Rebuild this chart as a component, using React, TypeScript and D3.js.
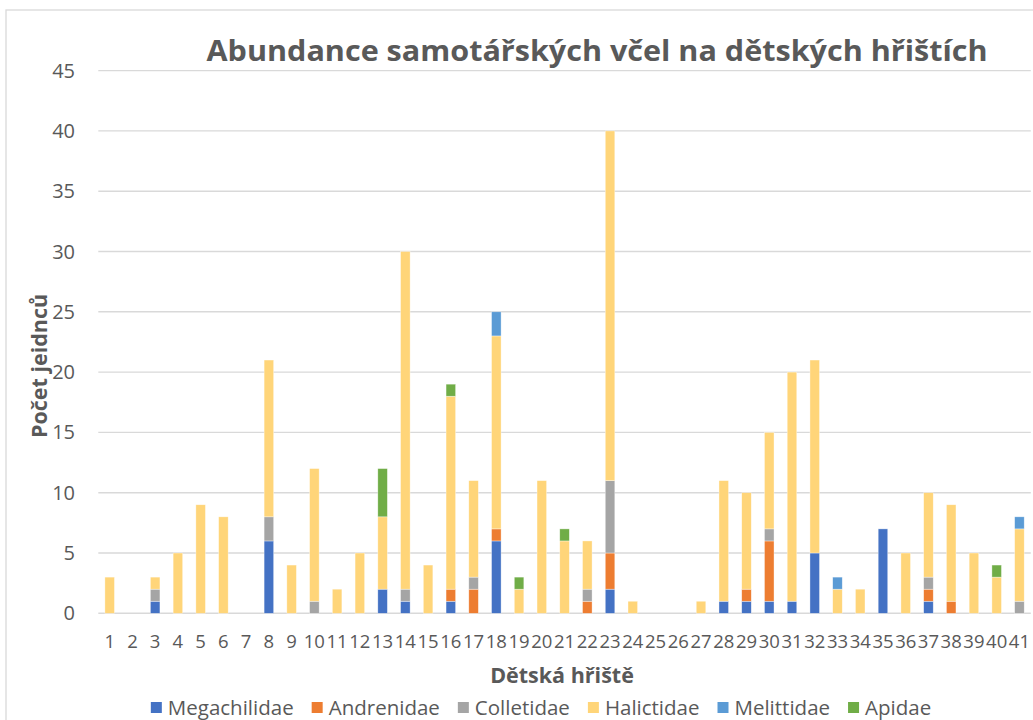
import React from 'react';
import * as d3 from 'd3';

const sites = d3.range(1, 42).map(String);
const families = ['Megachilidae', 'Andrenidae', 'Colletidae', 'Halictidae', 'Melittidae', 'Apidae'];
const familyColors = ['#4472C4', '#ED7D31', '#A5A5A5', '#FFD579', '#5B9BD5', '#70AD47'];

// counts per playground (1..41)
const megachilidae = [0,0,1,0,0,0,0,6,0,0,0,0,2,1,0,1,0,6,0,0,0,0,2,0,0,0,0,1,1,1,1,5,0,0,7,0,1,0,0,0,0];
const andrenidae   = [0,0,0,0,0,0,0,0,0,0,0,0,0,0,0,1,2,1,0,0,0,1,3,0,0,0,0,0,1,5,0,0,0,0,0,0,1,1,0,0,0];
const colletidae   = [0,0,1,0,0,0,0,2,0,1,0,0,0,1,0,0,1,0,0,0,0,1,6,0,0,0,0,0,0,1,0,0,0,0,0,0,1,0,0,0,1];
const halictidae   = [3,0,1,5,9,8,0,13,4,11,2,5,6,28,4,16,8,16,2,11,6,4,29,1,0,0,1,10,8,8,19,16,2,2,0,5,7,8,5,3,6];
const melittidae   = [0,0,0,0,0,0,0,0,0,0,0,0,0,0,0,0,0,2,0,0,0,0,0,0,0,0,0,0,0,0,0,0,1,0,0,0,0,0,0,0,1];
const apidae       = [0,0,0,0,0,0,0,0,0,0,0,0,4,0,0,1,0,0,1,0,1,0,0,0,0,0,0,0,0,0,0,0,0,0,0,0,0,0,0,1,0];
const yTicks = [0, 5, 10, 15, 20, 25, 30, 35, 40, 45];

const W = 1033;
const H = 720;
const textColor = '#595959';
const font = '"Open Sans", sans-serif';

export default function App() {
  const ref = React.useRef<SVGSVGElement>(null);

  React.useEffect(() => {
    if (!ref.current) return;
    const svg = d3.select(ref.current);
    svg.selectAll('*').remove();

    const series = [megachilidae, andrenidae, colletidae, halictidae, melittidae, apidae];
    const rows = sites.map((s, i) => {
      const r: Record<string, any> = { site: s };
      families.forEach((f, k) => { r[f] = series[k][i]; });
      return r;
    });
    const stacked = d3.stack<Record<string, any>>().keys(families)(rows);

    const x = d3.scaleBand().domain(sites).range([98.3, 1030.8]).paddingInner(0.58).paddingOuter(0.29);
    const y = d3.scaleLinear().domain([0, 45]).range([613.3, 70.6]);

    // chart border
    svg.append('rect')
      .attr('x', 6).attr('y', 10).attr('width', W + 20).attr('height', H + 20)
      .attr('fill', 'white').attr('stroke', '#d9d9d9').attr('stroke-width', 1.3);

    // gridlines
    svg.append('g')
      .selectAll('line')
      .data(yTicks)
      .join('line')
      .attr('x1', 98.3).attr('x2', 1030.8)
      .attr('y1', d => y(d)).attr('y2', d => y(d))
      .attr('stroke', '#d9d9d9').attr('stroke-width', 1.4);

    // y tick labels
    svg.append('g')
      .selectAll('text')
      .data(yTicks)
      .join('text')
      .attr('x', 75).attr('y', d => y(d))
      .attr('dy', '0.35em')
      .attr('text-anchor', 'end')
      .attr('font-size', 20)
      .attr('font-family', font)
      .attr('fill', textColor)
      .text(d => d);

    // bars
    svg.append('g')
      .selectAll('g')
      .data(stacked)
      .join('g')
      .attr('fill', (_, i) => familyColors[i])
      .selectAll('rect')
      .data(d => d.filter(s => s[1] - s[0] > 0))
      .join('rect')
      .attr('x', d => x(d.data.site) as number)
      .attr('width', x.bandwidth())
      .attr('y', d => y(d[1]))
      .attr('height', d => y(d[0]) - y(d[1]))
      .attr('stroke', 'white')
      .attr('stroke-width', 0.6)
      .attr('stroke-opacity', 0.6);

    // x tick labels
    svg.append('g')
      .selectAll('text')
      .data(sites)
      .join('text')
      .attr('x', d => (x(d) as number) + x.bandwidth() / 2)
      .attr('y', 648)
      .attr('text-anchor', 'middle')
      .attr('font-size', 18.5)
      .attr('font-family', font)
      .attr('fill', textColor)
      .text(d => d);

    // title
    svg.append('text')
      .attr('x', 597).attr('y', 61)
      .attr('text-anchor', 'middle')
      .attr('font-size', 28)
      .attr('font-weight', 'bold')
      .attr('font-family', font)
      .attr('fill', textColor)
      .attr('textLength', 781)
      .attr('lengthAdjust', 'spacingAndGlyphs')
      .text('Abundance samotářských včel na dětských hřištích');

    // axis titles
    svg.append('text')
      .attr('transform', 'translate(47,366) rotate(-90)')
      .attr('text-anchor', 'middle')
      .attr('font-size', 21.5)
      .attr('font-weight', 'bold')
      .attr('font-family', font)
      .attr('fill', textColor)
      .text('Počet jeidnců');

    svg.append('text')
      .attr('x', 562).attr('y', 683)
      .attr('text-anchor', 'middle')
      .attr('font-size', 21.5)
      .attr('font-weight', 'bold')
      .attr('font-family', font)
      .attr('fill', textColor)
      .text('Dětská hřiště');

    // legend, laid out from measured text widths
    const legend = svg.append('g');
    const items = legend.selectAll('g')
      .data(families)
      .join('g');
    items.append('rect')
      .attr('width', 11).attr('height', 11)
      .attr('y', -13)
      .attr('fill', (_, i) => familyColors[i]);
    items.append('text')
      .attr('x', 17)
      .attr('font-size', 20.5)
      .attr('font-family', font)
      .attr('fill', textColor)
      .text(d => d);
    const widths: number[] = [];
    items.select('text').each(function () {
      widths.push(17 + (this as SVGTextElement).getComputedTextLength());
    });
    const gap = 18;
    const total = d3.sum(widths) + gap * (widths.length - 1);
    let cx = 541 - total / 2;
    items.attr('transform', (_, i) => {
      const t = `translate(${cx},715)`;
      cx += widths[i] + gap;
      return t;
    });
  }, []);

  return (
    <div style={{ position: 'absolute', left: 0, top: 0 }}>
      <svg ref={ref} width={W} height={H} style={{ display: 'block', background: 'white' }} />
    </div>
  );
}
